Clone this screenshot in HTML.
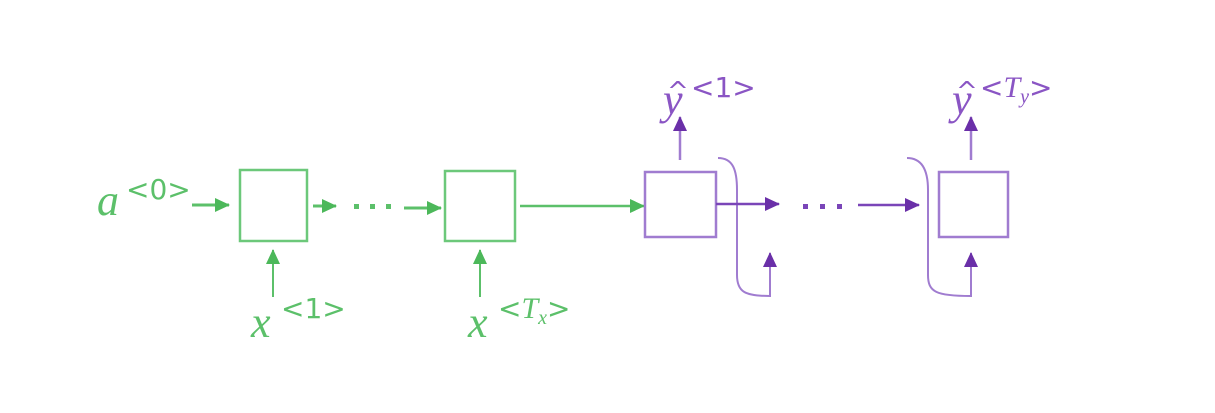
<!DOCTYPE html>
<html><head><style>
html,body{margin:0;padding:0;background:#fff;}
svg{display:block}
.m{font-family:"Liberation Serif",serif;font-style:italic;}
.s{font-family:"DejaVu Sans","Liberation Sans",sans-serif;}
</style></head><body>
<svg width="1215" height="413" viewBox="0 0 1215 413" xmlns="http://www.w3.org/2000/svg">
<defs>
<marker id="g" markerWidth="16" markerHeight="16" refX="14" refY="7" orient="auto" markerUnits="userSpaceOnUse"><path d="M0,0 L15,7 L0,14 z" fill="#4cb85a"/></marker>
<marker id="p" markerWidth="16" markerHeight="16" refX="14" refY="7" orient="auto" markerUnits="userSpaceOnUse"><path d="M0,0 L15,7 L0,14 z" fill="#6a2fa8"/></marker>
</defs>
<g stroke="#6cc87a" stroke-width="2.5" fill="none">
<rect x="240" y="170" width="67" height="71"/>
<rect x="445" y="171" width="70" height="70"/>
</g>
<g stroke="#5cc06a" stroke-width="3" fill="none">
<line x1="192" y1="205" x2="229" y2="205" marker-end="url(#g)"/>
<line x1="313" y1="206" x2="336" y2="206" marker-end="url(#g)"/>
<line x1="404" y1="208" x2="441" y2="208" marker-end="url(#g)"/>
<line x1="520" y1="206" x2="644" y2="206" stroke-width="2.5" marker-end="url(#g)"/>
<line x1="273" y1="297" x2="273" y2="250" stroke-width="2" marker-end="url(#g)"/>
<line x1="480" y1="297" x2="480" y2="250" stroke-width="2" marker-end="url(#g)"/>
</g>
<g fill="#5cc06a"><rect x="354" y="204" width="5" height="5"/><rect x="370" y="204" width="5" height="5"/><rect x="386" y="204" width="5" height="5"/></g>
<g fill="#5cc06a">
<text x="97" y="215" class="m" font-size="44">a</text>
<text x="126" y="199" class="s" font-size="28">&lt;0&gt;</text>
<text x="251" y="337" class="m" font-size="44">x</text>
<text x="281" y="318" class="s" font-size="28">&lt;1&gt;</text>
<text x="468" y="337" class="m" font-size="44">x</text>
<text x="498" y="318" class="s" font-size="28">&lt;<tspan class="m" font-size="30">T<tspan font-size="20" dy="6">x</tspan></tspan><tspan dy="-6">&gt;</tspan></text>
</g>
<g stroke="#a07cd0" stroke-width="2.5" fill="none">
<rect x="645" y="172" width="71" height="65"/>
<rect x="939" y="172" width="69" height="65"/>
<path d="M718,158 C733,158 737,170 737,190 L737,275 C737,292 745,296 770,296 L770,262" stroke-width="2"/>
<path d="M907,158 C922,158 928,170 928,190 L928,275 C928,292 936,296 971,296 L971,262" stroke-width="2"/>
</g>
<g stroke="#7a45b8" stroke-width="2.5" fill="none">
<line x1="716" y1="204" x2="779" y2="204" marker-end="url(#p)"/>
<line x1="858" y1="205" x2="919" y2="205" marker-end="url(#p)"/>
<line x1="680" y1="160" x2="680" y2="117" stroke="#a07cd0" marker-end="url(#p)"/>
<line x1="971" y1="160" x2="971" y2="117" stroke="#a07cd0" marker-end="url(#p)"/>
<line x1="770" y1="296" x2="770" y2="253" stroke="#a07cd0" stroke-width="2" marker-end="url(#p)"/>
<line x1="971" y1="296" x2="971" y2="253" stroke="#a07cd0" stroke-width="2" marker-end="url(#p)"/>
</g>
<g fill="#7a45b8"><rect x="803" y="204" width="5" height="5"/><rect x="820" y="204" width="5" height="5"/><rect x="837" y="204" width="5" height="5"/></g>
<g fill="#8a55c4">
<text x="663" y="114" class="m" font-size="44">y</text>
<text x="667" y="100" class="s" font-size="26">^</text>
<text x="691" y="97" class="s" font-size="28">&lt;1&gt;</text>
<text x="952" y="114" class="m" font-size="44">y</text>
<text x="956" y="100" class="s" font-size="26">^</text>
<text x="980" y="97" class="s" font-size="28">&lt;<tspan class="m" font-size="30">T<tspan font-size="20" dy="6">y</tspan></tspan><tspan dy="-6">&gt;</tspan></text>
</g>
</svg>
</body></html>
